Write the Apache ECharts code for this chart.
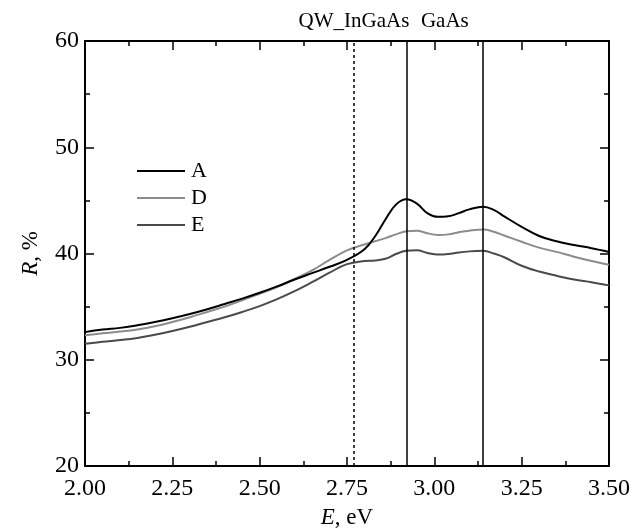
<!DOCTYPE html>
<html>
<head>
<meta charset="utf-8">
<script src="https://cdn.jsdelivr.net/npm/echarts@6/dist/echarts.min.js"></script>
<style>html,body{margin:0;padding:0;background:#fff}#c{width:634px;height:530px}</style>
</head>
<body>
<div id="c"></div>
<script>
var energy = [2.00,2.05,2.10,2.15,2.20,2.25,2.30,2.35,2.40,2.45,2.50,2.55,2.60,2.65,2.70,2.75,2.80,2.83,2.86,2.89,2.92,2.95,2.98,3.01,3.04,3.07,3.10,3.14,3.17,3.20,3.25,3.30,3.35,3.40,3.45,3.50];
var seriesA = [32.6,32.85,33.0,33.25,33.55,33.9,34.3,34.75,35.25,35.75,36.3,36.9,37.55,38.15,38.75,39.4,40.4,41.6,43.2,44.6,45.1,44.7,43.8,43.45,43.5,43.8,44.15,44.4,44.1,43.5,42.5,41.65,41.15,40.8,40.5,40.15];
var seriesD = [32.3,32.5,32.65,32.85,33.15,33.55,34.0,34.5,35.0,35.6,36.2,36.85,37.6,38.4,39.4,40.3,40.85,41.15,41.45,41.8,42.1,42.15,41.9,41.75,41.8,42.0,42.15,42.25,42.05,41.7,41.1,40.55,40.15,39.7,39.3,38.95];
var seriesE = [31.5,31.7,31.85,32.05,32.35,32.7,33.1,33.55,34.0,34.5,35.05,35.7,36.45,37.3,38.2,39.0,39.3,39.35,39.5,39.95,40.25,40.3,40.05,39.9,39.95,40.1,40.2,40.25,40.0,39.65,38.85,38.3,37.9,37.55,37.3,37.0];
var seriesNames = ['A','D','E'];
var seriesColors = ['#000000','#8c8c8c','#4a4a4a'];
var xTicks = [2.00,2.25,2.50,2.75,3.00,3.25,3.50];
var yTicks = [20,30,40,50,60];
var markQW = 2.77, markGaAs1 = 2.92, markGaAs2 = 3.14;
var labelQW = 'QW_InGaAs', labelGaAs = 'GaAs';

var FONT = 'Liberation Serif';
function pairs(v){ return energy.map(function(x,i){ return [x, v[i]]; }); }
var vals = [seriesA, seriesD, seriesE];

var axisCommonX = {
  type:'value', min:2, max:3.5, interval:0.25,
  axisLine:{show:true, lineStyle:{color:'#000', width:2}},
  axisTick:{show:true, inside:true, length:9, lineStyle:{color:'#000', width:1.5}},
  minorTick:{show:true, splitNumber:2, length:5, lineStyle:{color:'#000', width:1.5}},
  splitLine:{show:false}
};
var axisCommonY = {
  type:'value', min:20, max:60, interval:10,
  axisLine:{show:true, lineStyle:{color:'#000', width:2}},
  axisTick:{show:true, inside:true, length:9, lineStyle:{color:'#000', width:1.5}},
  minorTick:{show:true, splitNumber:2, length:5, lineStyle:{color:'#000', width:1.5}},
  splitLine:{show:false}
};

var series = seriesNames.map(function(n,i){
  return {
    name:n, type:'line', data:pairs(vals[i]), smooth:0.4, symbol:'none', showSymbol:false,
    lineStyle:{color:seriesColors[i], width:2}, itemStyle:{color:seriesColors[i]}, z: 3 - i
  };
});
series[0].markLine = {
  silent:true, symbol:['none','none'], animation:false,
  label:{show:true, position:'end', distance:9, color:'#000', fontFamily:FONT, fontSize:21, formatter:'{b}'},
  data:[
    {name:labelQW, xAxis:markQW, lineStyle:{type:[3,3], color:'#000', width:1.5}},
    {name:'', xAxis:markGaAs1, lineStyle:{type:'solid', color:'#000', width:1.5}, label:{show:false}},
    {name:'', xAxis:markGaAs2, lineStyle:{type:'solid', color:'#000', width:1.5}, label:{show:false}},
    {name:labelGaAs, xAxis:(markGaAs1+markGaAs2)/2, lineStyle:{color:'rgba(0,0,0,0)', width:0}, label:{color:'#000'}}
  ]
};

var chart = echarts.init(document.getElementById('c'), null, {renderer:'canvas'});
chart.setOption({
  animation:false,
  backgroundColor:'#fff',
  grid:{left:85, right:25, top:41, bottom:64, containLabel:false, outerBoundsMode:'none'},
  legend:{
    data:seriesNames, orient:'vertical', left:132, top:155, itemWidth:48, itemHeight:12, itemGap:5,
    textStyle:{fontFamily:FONT, fontSize:22, color:'#000', padding:[0,0,0,1]},
    icon:'path://M0,5 L48,5 L48,7 L0,7 Z'
  },
  xAxis:[
    Object.assign({}, axisCommonX, {
      position:'bottom',
      axisLabel:{show:true, margin:11, color:'#000', fontFamily:FONT, fontSize:24, formatter:function(v){return v.toFixed(2);}},
      name:'{i|E}, eV', nameLocation:'middle', nameGap:40,
      nameTextStyle:{fontFamily:FONT, fontSize:23, color:'#000', rich:{i:{fontFamily:FONT, fontSize:23, fontStyle:'italic', color:'#000'}}}
    }),
    Object.assign({}, axisCommonX, {position:'top', axisLabel:{show:false}})
  ],
  yAxis:[
    Object.assign({}, axisCommonY, {
      position:'left',
      axisLabel:{show:true, margin:6, color:'#000', fontFamily:FONT, fontSize:24},
      name:'{i|R}, %', nameLocation:'middle', nameGap:43,
      nameTextStyle:{fontFamily:FONT, fontSize:23, color:'#000', rich:{i:{fontFamily:FONT, fontSize:23, fontStyle:'italic', color:'#000'}}}
    }),
    Object.assign({}, axisCommonY, {position:'right', axisLabel:{show:false}})
  ],
  series:series
});
</script>
</body>
</html>
